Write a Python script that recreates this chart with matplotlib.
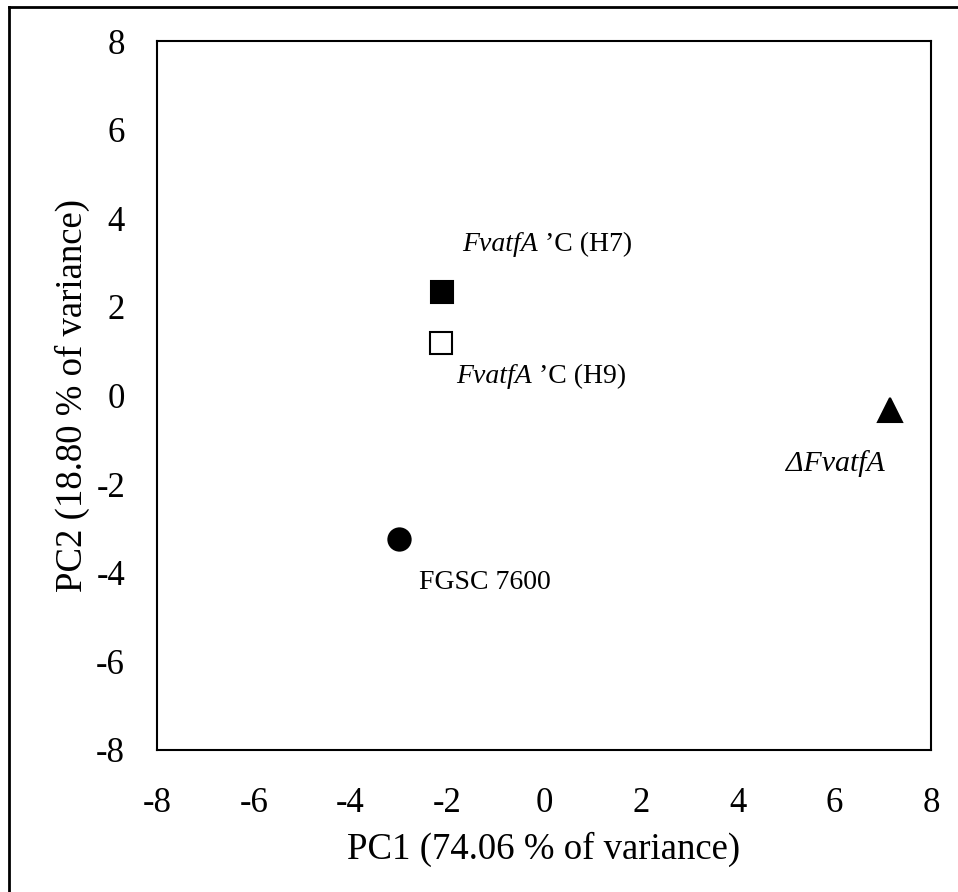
import matplotlib
matplotlib.use("Agg")
import matplotlib.pyplot as plt
from matplotlib.lines import Line2D

plt.rcParams['font.family'] = ['Liberation Serif', 'DejaVu Serif']
plt.rcParams['axes.unicode_minus'] = False

# PCA scores
strains = ["FGSC 7600", "FvatfA 'C (H7)", "FvatfA 'C (H9)", "ΔFvatfA"]
pc1 = [-3.0, -2.1, -2.12, 7.15]
pc2 = [-3.24, 2.33, 1.18, -0.33]
markers = ["o", "s", "s", "^"]
facecolors = ["black", "black", "white", "black"]

ticks = [-8, -6, -4, -2, 0, 2, 4, 6, 8]

fig = plt.figure(figsize=(9.58, 8.92), dpi=100)
ax = fig.add_axes([157 / 958, 1 - 750 / 892, (931 - 157) / 958, (750 - 41) / 892])

for x, y, m, fc in zip(pc1, pc2, markers, facecolors):
    ax.plot(x, y, marker=m, markersize=16 if m != "^" else 17,
            markerfacecolor=fc, markeredgecolor="black", markeredgewidth=1.5,
            linestyle="none")

lab_kw = dict(fontsize=20, va="center", ha="left")


def label(i, dx, dy, italic, plain, size=20):
    # italic gene name followed by plain suffix
    t = ax.annotate(italic, (pc1[i], pc2[i]), xytext=(dx, dy), textcoords="offset pixels",
                    fontstyle="italic", fontsize=size, va="center", ha="left")
    if plain:
        fig.canvas.draw()
        bb = t.get_window_extent()
        ax.annotate(plain, (pc1[i], pc2[i]), xytext=(dx + bb.width, dy),
                    textcoords="offset pixels", fontsize=size, va="center", ha="left")


label(1, 20, 48, "FvatfA", " \u2019C (H7)")
label(2, 15, -33, "FvatfA", " \u2019C (H9)")
label(3, -104, -53, "\u0394FvatfA", "", size=21.5)
label(0, 20, -43, "", "FGSC 7600")

ax.set_xlim(-8, 8)
ax.set_ylim(-8, 8)
ax.set_xticks(ticks)
ax.set_yticks(ticks)
ax.tick_params(length=0, labelsize=25)
ax.tick_params(axis="x", pad=27)
ax.tick_params(axis="y", pad=23)
for s in ax.spines.values():
    s.set_linewidth(1.5)
ax.set_xlabel("PC1 (74.06 % of variance)", fontsize=26.5, labelpad=8)
ax.set_ylabel("PC2 (18.80 % of variance)", fontsize=26.5, labelpad=4)

# outer chart-area border (only top and left edges visible)
fig.add_artist(Line2D([9 / 958, 9 / 958], [0, 1 - 7 / 892], color="black", lw=2))
fig.add_artist(Line2D([9 / 958, 1], [1 - 7 / 892, 1 - 7 / 892], color="black", lw=2))

fig.savefig("out.png", dpi=100)
